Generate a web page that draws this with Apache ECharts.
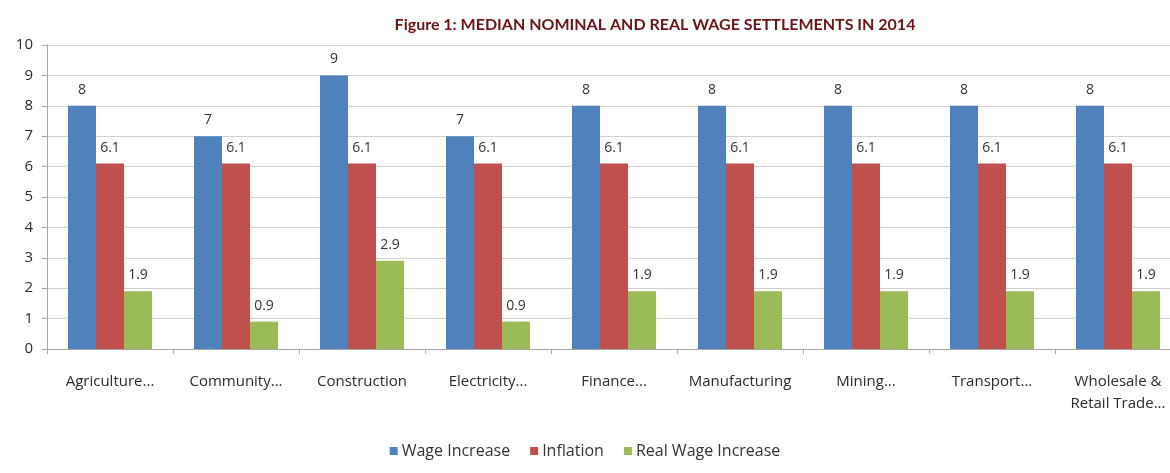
<!DOCTYPE html>
<html>
<head>
<meta charset="utf-8">
<style>
  html, body { margin: 0; padding: 0; background: #ffffff; overflow: hidden; }
  #chart { width: 1170px; height: 473px; }
</style>
<script src="https://cdn.jsdelivr.net/npm/echarts@6/dist/echarts.min.js"></script>
</head>
<body>
<div id="chart"></div>
<script>
// Sectors and median settlement figures for 2014 (%)
const categories = [
  'Agriculture...', 'Community...', 'Construction', 'Electricity...',
  'Finance...', 'Manufacturing', 'Mining...', 'Transport...',
  'Wholesale &\nRetail Trade...'
];
const wageIncrease = [8, 7, 9, 7, 8, 8, 8, 8, 8];
const inflation = [6.1, 6.1, 6.1, 6.1, 6.1, 6.1, 6.1, 6.1, 6.1];
const realWageIncrease = [1.9, 0.9, 2.9, 0.9, 1.9, 1.9, 1.9, 1.9, 1.9];
const yTicks = [0, 1, 2, 3, 4, 5, 6, 7, 8, 9, 10];

const textFont = '"Open Sans", "Liberation Sans", sans-serif';

const chart = echarts.init(document.getElementById('chart'));

function barSeries(name, data, color) {
  return {
    name: name,
    type: 'bar',
    data: data,
    barGap: '0%',
    barCategoryGap: '33.3%',
    itemStyle: { color: color },
    label: {
      show: true,
      position: 'top',
      distance: 9,
      color: '#333333',
      fontFamily: textFont,
      fontSize: 14
    }
  };
}

chart.setOption({
  backgroundColor: '#ffffff',
  animation: false,
  title: {
    text: 'Figure 1: MEDIAN NOMINAL AND REAL WAGE SETTLEMENTS IN 2014',
    left: 650,
    textAlign: 'center',
    top: 12,
    textStyle: {
      color: '#6a1518',
      fontFamily: '"Lato", "DejaVu Sans", sans-serif',
      fontWeight: 'bold',
      fontSize: 16
    }
  },
  legend: {
    bottom: 9,
    left: 'center',
    itemWidth: 8,
    itemHeight: 8,
    itemGap: 20,
    icon: 'rect',
    textStyle: {
      color: '#333333',
      fontFamily: textFont,
      fontSize: 16,
      padding: [0, 0, 0, -1]
    },
    data: ['Wage Increase', 'Inflation', 'Real Wage Increase']
  },
  // plot area runs a little past the right edge of the page
  grid: {
    left: 47,
    width: 1134,
    top: 45,
    bottom: 124,
    containLabel: false,
    outerBoundsMode: 'none'
  },
  xAxis: {
    type: 'category',
    data: categories,
    axisLine: { lineStyle: { color: '#a6a6a6' } },
    axisTick: { show: true, length: 5, lineStyle: { color: '#a6a6a6' } },
    axisLabel: {
      interval: 0,
      margin: 22,
      color: '#2b2b2b',
      fontFamily: textFont,
      fontSize: 15,
      lineHeight: 22
    }
  },
  yAxis: {
    type: 'value',
    min: yTicks[0],
    max: yTicks[yTicks.length - 1],
    interval: 1,
    axisLine: { show: true, lineStyle: { color: '#a6a6a6' } },
    axisTick: { show: true, length: 5, lineStyle: { color: '#a6a6a6' } },
    splitLine: { lineStyle: { color: '#d0d0d0' } },
    axisLabel: {
      margin: 14,
      color: '#2b2b2b',
      fontFamily: textFont,
      fontSize: 15
    }
  },
  series: [
    barSeries('Wage Increase', wageIncrease, '#4f81bd'),
    barSeries('Inflation', inflation, '#c0504d'),
    barSeries('Real Wage Increase', realWageIncrease, '#9bbb59')
  ]
});
</script>
</body>
</html>
